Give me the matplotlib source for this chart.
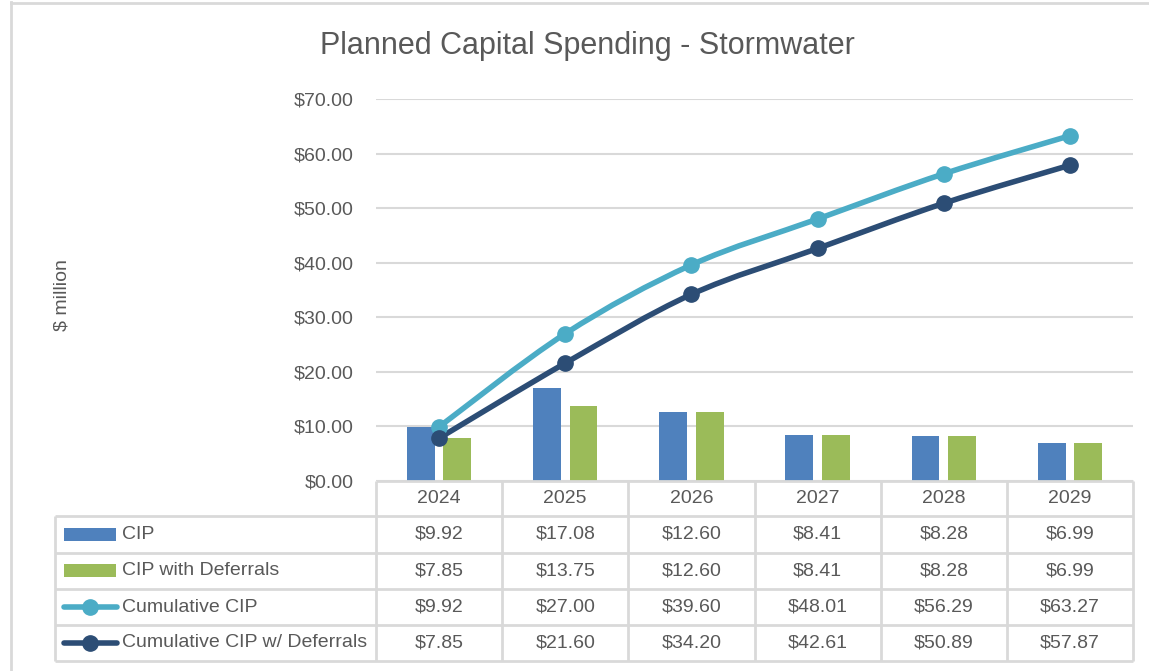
import matplotlib
matplotlib.use("Agg")
import matplotlib.pyplot as plt
from matplotlib.path import Path
from matplotlib.patches import PathPatch
import numpy as np

years = ["2024", "2025", "2026", "2027", "2028", "2029"]
cip = [9.92, 17.08, 12.60, 8.41, 8.28, 6.99]
cip_def = [7.85, 13.75, 12.60, 8.41, 8.28, 6.99]
cum_cip = [9.92, 27.00, 39.60, 48.01, 56.29, 63.27]
cum_def = [7.85, 21.60, 34.20, 42.61, 50.89, 57.87]
series_names = ["CIP", "CIP with Deferrals", "Cumulative CIP", "Cumulative CIP w/ Deferrals"]
yticks = [0, 10, 20, 30, 40, 50, 60, 70]

C_BLUE = "#4F81BD"
C_GREEN = "#9BBB59"
C_CYAN = "#4BACC6"
C_NAVY = "#2C4D75"
C_TEXT = "#595959"
C_GRID = "#D9D9D9"

plt.rcParams['font.family'] = ['Liberation Sans Narrow', 'Liberation Sans', 'DejaVu Sans']

W, H = 1149, 671
fig = plt.figure(figsize=(W / 100, H / 100), dpi=100)

def fx(px):
    return px / W

def fy(py):
    return 1 - py / H

L, R, T, B = 376, 1133, 99, 481
ax = fig.add_axes([fx(L), fy(B), fx(R) - fx(L), fy(T) - fy(B)])
x = np.arange(len(years))
bw = 0.22
ax.bar(x - 0.145, cip, width=bw, color=C_BLUE, zorder=2)
ax.bar(x + 0.145, cip_def, width=bw, color=C_GREEN, zorder=2)


def smooth_path(xs, ys):
    # Catmull-Rom style cubic Bezier (Excel smoothed line)
    pts = list(zip(xs, ys))
    verts = [pts[0]]
    codes = [Path.MOVETO]
    n = len(pts)
    t = 1 / 6
    for i in range(n - 1):
        p0 = pts[i - 1] if i > 0 else pts[i]
        p1 = pts[i]
        p2 = pts[i + 1]
        p3 = pts[i + 2] if i + 2 < n else pts[i + 1]
        c1 = (p1[0] + (p2[0] - p0[0]) * t, p1[1] + (p2[1] - p0[1]) * t)
        c2 = (p2[0] - (p3[0] - p1[0]) * t, p2[1] - (p3[1] - p1[1]) * t)
        verts += [c1, c2, p2]
        codes += [Path.CURVE4] * 3
    return Path(verts, codes)

for vals, col in [(cum_cip, C_CYAN), (cum_def, C_NAVY)]:
    ax.add_patch(PathPatch(smooth_path(x, vals), facecolor='none', edgecolor=col,
                           lw=4, zorder=3, capstyle='round', joinstyle='round'))
    ax.plot(x, vals, 'o', color=col, ms=11, zorder=4)

ax.set_xlim(-0.5, 5.5)
ax.set_ylim(0, 70)
ax.set_yticks(yticks)
ax.set_yticklabels([f"${v:.2f}" for v in yticks], fontsize=14, color=C_TEXT)
ax.tick_params(axis='y', length=0, pad=16)
ax.set_xticks([])
ax.grid(axis='y', color=C_GRID, lw=1.5, zorder=0)
for s in ax.spines.values():
    s.set_visible(False)

# title and y label
fig.text(fx(587), fy(46), "Planned Capital Spending - Stormwater", ha='center', va='center',
         fontsize=22, color=C_TEXT)
fig.text(fx(62), fy(295), "$ million", ha='center', va='center', rotation=90,
         fontsize=14, color=C_TEXT)

# data table
tax = fig.add_axes([0, 0, 1, 1])
tax.set_xlim(0, W)
tax.set_ylim(H, 0)
tax.axis('off')
tax.patch.set_alpha(0)

col_w = (R - L) / len(years)
col_edges = [L + i * col_w for i in range(len(years) + 1)]
row_edges = [481, 516, 552.5, 589, 625, 660.5]
left_x = 55
lc = dict(color=C_GRID, lw=2, solid_capstyle='butt')
for cx in col_edges:
    tax.plot([cx, cx], [row_edges[0], row_edges[-1]], **lc)
tax.plot([L, R], [row_edges[0], row_edges[0]], **lc)
for ry in row_edges[1:]:
    tax.plot([left_x, R], [ry, ry], **lc)
tax.plot([left_x, left_x], [row_edges[1], row_edges[-1]], **lc)

fs = 14
for i, yr in enumerate(years):
    cx = L + (i + 0.5) * col_w
    tax.text(cx, (row_edges[0] + row_edges[1]) / 2, yr, ha='center', va='center',
             fontsize=fs, color=C_TEXT)
rows = [cip, cip_def, cum_cip, cum_def]
for r, vals in enumerate(rows):
    cy = (row_edges[r + 1] + row_edges[r + 2]) / 2
    for i, v in enumerate(vals):
        cx = L + (i + 0.5) * col_w
        tax.text(cx, cy, f"${v:.2f}", ha='center', va='center', fontsize=fs, color=C_TEXT)
    tax.text(122, cy, series_names[r], ha='left', va='center', fontsize=fs, color=C_TEXT)

# legend keys
for r, col in enumerate([C_BLUE, C_GREEN]):
    cy = (row_edges[r + 1] + row_edges[r + 2]) / 2
    tax.add_patch(plt.Rectangle((64, cy - 6.5), 52, 13, color=col, lw=0))
for r, col in [(2, C_CYAN), (3, C_NAVY)]:
    cy = (row_edges[r + 1] + row_edges[r + 2]) / 2
    tax.plot([64, 117], [cy, cy], color=col, lw=4, solid_capstyle='round')
    tax.plot([90], [cy], 'o', color=col, ms=11)

# outer frame (left and top)
tax.plot([11, 11], [2, H], color=C_GRID, lw=2)
tax.plot([11, W], [2.5, 2.5], color=C_GRID, lw=2)

fig.savefig("out.png", dpi=100, facecolor='white')
